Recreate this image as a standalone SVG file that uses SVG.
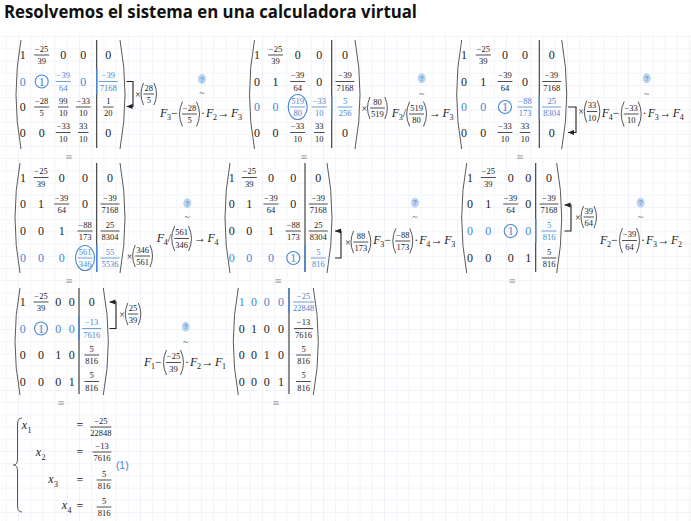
<svg xmlns="http://www.w3.org/2000/svg" width="691" height="521" viewBox="0 0 691 521">
<defs>
<style>
text{font-family:"Liberation Serif",serif}
.ttl{font-family:"Open Sans","Noto Sans",sans-serif;font-weight:bold;font-size:17.5px;fill:#111}
.i{font-size:12px;text-anchor:middle;fill:#222}
.f{font-size:8.5px;text-anchor:middle;fill:#222}
.fr{stroke:#222;stroke-width:.8}
.blue .i,.blue .f{fill:#4a86d0}
.blue .fr{stroke:#4a86d0}
.par{fill:none;stroke:#5a5a5a;stroke-width:1}
.sp{fill:none;stroke:#444;stroke-width:.9}
.bar{stroke:#333;stroke-width:1.1}
.bbar{stroke:#4a86d0;stroke-width:1.4}
.piv{fill:none;stroke:#4a86d0;stroke-width:1.1}
.op{font-size:12px;fill:#222}
.it{font-style:italic}
.sb{font-size:8px;fill:#222}
.tm{font-size:10px;fill:#222}
.eq3{font-family:"DejaVu Sans",sans-serif;font-size:9px;fill:#aaa;text-anchor:middle}
.bd{fill:#b9d5f1}
.q{font-family:"Liberation Sans",sans-serif;font-size:7px;font-weight:bold;fill:#6a95c4;text-anchor:middle}
.tl{font-size:10px;fill:#555;text-anchor:middle}
.con{fill:none;stroke:#222;stroke-width:1.1}
.lab{font-family:"Liberation Sans",sans-serif;font-size:10.5px;fill:#4a86d0;text-anchor:middle}
</style>
<pattern id="grid" width="12.2" height="12.2" patternUnits="userSpaceOnUse" x="5.8" y="-0.4">
<path d="M0.5,0 V12.2 M0,0.5 H12.2" stroke="#f1f3f8" stroke-width="1" fill="none"/>
</pattern>
<marker id="ah" viewBox="0 0 6 6" refX="6" refY="3" markerWidth="6" markerHeight="6" markerUnits="userSpaceOnUse" orient="auto">
<path d="M0,0.4 L6,3 L0,5.6 z" fill="#222"/>
</marker>
</defs>
<rect width="691" height="521" fill="#fff"/>
<rect y="34" width="691" height="487" fill="url(#grid)"/>
<text class="ttl" x="4" y="18" textLength="413" lengthAdjust="spacingAndGlyphs">Resolvemos el sistema en una calculadora virtual</text>

<!-- Matrix A -->
<g id="matrix-A">
<path class="par" d="M21,40 Q11,94.5 21,149"/><path class="par" d="M120,40 Q130,94.5 120,149"/>
<line class="bar" x1="96.7" y1="40" x2="96.7" y2="148"/><line class="bbar" x1="96.7" y1="69" x2="96.7" y2="94"/>
<text class="i" x="22.7" y="59">1</text>
<text class="f" x="41.7" y="51.5">−25</text><line class="fr" x1="34.2" y1="55" x2="49.2" y2="55"/><text class="f" x="41.7" y="64.2">39</text>
<text class="i" x="63.3" y="59">0</text><text class="i" x="83.3" y="59">0</text><text class="i" x="108.3" y="59">0</text>
<g class="blue">
<text class="i" x="22.7" y="85.5">0</text>
<circle class="piv" cx="41.7" cy="81.5" r="6.5"/><text class="i" x="41.7" y="85.5">1</text>
<text class="f" x="63.3" y="78">−39</text><line class="fr" x1="55.8" y1="81.5" x2="70.8" y2="81.5"/><text class="f" x="63.3" y="90.7">64</text>
<text class="i" x="83.3" y="85.5">0</text>
<text class="f" x="108.3" y="78">−39</text><line class="fr" x1="98.8" y1="81.5" x2="117.8" y2="81.5"/><text class="f" x="108.3" y="90.7">7168</text>
</g>
<text class="i" x="22.7" y="111">0</text>
<text class="f" x="41.7" y="103.5">−28</text><line class="fr" x1="34.2" y1="107" x2="49.2" y2="107"/><text class="f" x="41.7" y="116.2">5</text>
<text class="f" x="63.3" y="103.5">99</text><line class="fr" x1="58.05" y1="107" x2="68.55" y2="107"/><text class="f" x="63.3" y="116.2">10</text>
<text class="f" x="83.3" y="103.5">−33</text><line class="fr" x1="75.8" y1="107" x2="90.8" y2="107"/><text class="f" x="83.3" y="116.2">10</text>
<text class="f" x="108.3" y="103.5">1</text><line class="fr" x1="103.05" y1="107" x2="113.55" y2="107"/><text class="f" x="108.3" y="116.2">20</text>
<text class="i" x="22.7" y="136.5">0</text><text class="i" x="41.7" y="136.5">0</text>
<text class="f" x="63.3" y="129">−33</text><line class="fr" x1="55.8" y1="132.5" x2="70.8" y2="132.5"/><text class="f" x="63.3" y="141.7">10</text>
<text class="f" x="83.3" y="129">33</text><line class="fr" x1="78.05" y1="132.5" x2="88.55" y2="132.5"/><text class="f" x="83.3" y="141.7">10</text>
<text class="i" x="108.3" y="136.5">0</text>
<text class="eq3" x="69" y="160">≡</text>
</g>

<!-- Matrix B -->
<g id="matrix-B">
<path class="par" d="M254.5,40 Q244.5,94.5 254.5,149"/><path class="par" d="M355,40 Q365,94.5 355,149"/>
<line class="bar" x1="331.7" y1="40" x2="331.7" y2="148"/><line class="bbar" x1="331.7" y1="95" x2="331.7" y2="119"/>
<text class="i" x="257" y="59">1</text>
<text class="f" x="275.5" y="51.5">−25</text><line class="fr" x1="268" y1="55" x2="283" y2="55"/><text class="f" x="275.5" y="64.2">39</text>
<text class="i" x="297.7" y="59">0</text><text class="i" x="319.3" y="59">0</text><text class="i" x="345" y="59">0</text>
<text class="i" x="257" y="85.5">0</text><text class="i" x="275.5" y="85.5">1</text>
<text class="f" x="297.7" y="78">−39</text><line class="fr" x1="290.2" y1="81.5" x2="305.2" y2="81.5"/><text class="f" x="297.7" y="90.7">64</text>
<text class="i" x="319.3" y="85.5">0</text>
<text class="f" x="345" y="78">−39</text><line class="fr" x1="335.5" y1="81.5" x2="354.5" y2="81.5"/><text class="f" x="345" y="90.7">7168</text>
<g class="blue">
<text class="i" x="257" y="111">0</text><text class="i" x="275.5" y="111">0</text>
<ellipse class="piv" cx="297.7" cy="107" rx="9.5" ry="12.5"/>
<text class="f" x="297.7" y="103.5">519</text><line class="fr" x1="290.3" y1="107" x2="305.1" y2="107"/><text class="f" x="297.7" y="116.2">80</text>
<text class="f" x="319.3" y="103.5">−33</text><line class="fr" x1="311.8" y1="107" x2="326.8" y2="107"/><text class="f" x="319.3" y="116.2">10</text>
<text class="f" x="345" y="103.5">5</text><line class="fr" x1="337.6" y1="107" x2="352.4" y2="107"/><text class="f" x="345" y="116.2">256</text>
</g>
<text class="i" x="257" y="136.5">0</text><text class="i" x="275.5" y="136.5">0</text>
<text class="f" x="297.7" y="129">−33</text><line class="fr" x1="290.2" y1="132.5" x2="305.2" y2="132.5"/><text class="f" x="297.7" y="141.7">10</text>
<text class="f" x="319.3" y="129">33</text><line class="fr" x1="314.05" y1="132.5" x2="324.55" y2="132.5"/><text class="f" x="319.3" y="141.7">10</text>
<text class="i" x="345" y="136.5">0</text>
<text class="eq3" x="304" y="160">≡</text>
</g>

<!-- Matrix C -->
<g id="matrix-C">
<path class="par" d="M461.7,40 Q451.7,94.5 461.7,149"/><path class="par" d="M561.7,40 Q571.7,94.5 561.7,149"/>
<line class="bar" x1="539.3" y1="40" x2="539.3" y2="148"/><line class="bbar" x1="539.3" y1="95" x2="539.3" y2="119"/>
<text class="i" x="464" y="59">1</text>
<text class="f" x="483.3" y="51.5">−25</text><line class="fr" x1="475.8" y1="55" x2="490.8" y2="55"/><text class="f" x="483.3" y="64.2">39</text>
<text class="i" x="505" y="59">0</text><text class="i" x="525" y="59">0</text><text class="i" x="551.7" y="59">0</text>
<text class="i" x="464" y="85.5">0</text><text class="i" x="483.3" y="85.5">1</text>
<text class="f" x="505" y="78">−39</text><line class="fr" x1="497.5" y1="81.5" x2="512.5" y2="81.5"/><text class="f" x="505" y="90.7">64</text>
<text class="i" x="525" y="85.5">0</text>
<text class="f" x="551.7" y="78">−39</text><line class="fr" x1="542.2" y1="81.5" x2="561.2" y2="81.5"/><text class="f" x="551.7" y="90.7">7168</text>
<g class="blue">
<text class="i" x="464" y="111">0</text><text class="i" x="483.3" y="111">0</text>
<circle class="piv" cx="505" cy="107" r="6.5"/><text class="i" x="505" y="111">1</text>
<text class="f" x="525" y="103.5">−88</text><line class="fr" x1="517.5" y1="107" x2="532.5" y2="107"/><text class="f" x="525" y="116.2">173</text>
<text class="f" x="551.7" y="103.5">25</text><line class="fr" x1="542.2" y1="107" x2="561.2" y2="107"/><text class="f" x="551.7" y="116.2">8304</text>
</g>
<text class="i" x="464" y="136.5">0</text><text class="i" x="483.3" y="136.5">0</text>
<text class="f" x="505" y="129">−33</text><line class="fr" x1="497.5" y1="132.5" x2="512.5" y2="132.5"/><text class="f" x="505" y="141.7">10</text>
<text class="f" x="525" y="129">33</text><line class="fr" x1="519.75" y1="132.5" x2="530.25" y2="132.5"/><text class="f" x="525" y="141.7">10</text>
<text class="i" x="551.7" y="136.5">0</text>
<text class="eq3" x="520" y="160">≡</text>
</g>

<!-- Matrix D -->
<g id="matrix-D">
<path class="par" d="M20,163 Q10,218 20,273"/><path class="par" d="M120,163 Q130,218 120,273"/>
<line class="bar" x1="96.7" y1="163" x2="96.7" y2="272"/><line class="bbar" x1="96.7" y1="245" x2="96.7" y2="272"/>
<text class="i" x="23" y="181.5">1</text>
<text class="f" x="41" y="174">−25</text><line class="fr" x1="33.5" y1="177.5" x2="48.5" y2="177.5"/><text class="f" x="41" y="186.7">39</text>
<text class="i" x="61.7" y="181.5">0</text><text class="i" x="85" y="181.5">0</text><text class="i" x="110" y="181.5">0</text>
<text class="i" x="23" y="208">0</text><text class="i" x="41" y="208">1</text>
<text class="f" x="61.7" y="200.5">−39</text><line class="fr" x1="54.2" y1="204" x2="69.2" y2="204"/><text class="f" x="61.7" y="213.2">64</text>
<text class="i" x="85" y="208">0</text>
<text class="f" x="110" y="200.5">−39</text><line class="fr" x1="100.5" y1="204" x2="119.5" y2="204"/><text class="f" x="110" y="213.2">7168</text>
<text class="i" x="23" y="235">0</text><text class="i" x="41" y="235">0</text><text class="i" x="61.7" y="235">1</text>
<text class="f" x="85" y="227.5">−88</text><line class="fr" x1="77.5" y1="231" x2="92.5" y2="231"/><text class="f" x="85" y="240.2">173</text>
<text class="f" x="110" y="227.5">25</text><line class="fr" x1="100.5" y1="231" x2="119.5" y2="231"/><text class="f" x="110" y="240.2">8304</text>
<g class="blue">
<text class="i" x="23" y="262">0</text><text class="i" x="41" y="262">0</text><text class="i" x="61.7" y="262">0</text>
<ellipse class="piv" cx="85" cy="258" rx="9.5" ry="12.5"/>
<text class="f" x="85" y="254.5">561</text><line class="fr" x1="77.6" y1="258" x2="92.4" y2="258"/><text class="f" x="85" y="267.2">346</text>
<text class="f" x="110" y="254.5">55</text><line class="fr" x1="100.5" y1="258" x2="119.5" y2="258"/><text class="f" x="110" y="267.2">5536</text>
</g>
<text class="eq3" x="69.3" y="284">≡</text>
</g>

<!-- Matrix E -->
<g id="matrix-E">
<path class="par" d="M230,163 Q220,218 230,273"/><path class="par" d="M327,163 Q337,218 327,273"/>
<line class="bar" x1="305" y1="163" x2="305" y2="272"/><line class="bbar" x1="305" y1="245" x2="305" y2="272"/>
<text class="i" x="231.7" y="181.5">1</text>
<text class="f" x="249.3" y="174">−25</text><line class="fr" x1="241.8" y1="177.5" x2="256.8" y2="177.5"/><text class="f" x="249.3" y="186.7">39</text>
<text class="i" x="271" y="181.5">0</text><text class="i" x="293.3" y="181.5">0</text><text class="i" x="318.3" y="181.5">0</text>
<text class="i" x="231.7" y="208">0</text><text class="i" x="249.3" y="208">1</text>
<text class="f" x="271" y="200.5">−39</text><line class="fr" x1="263.5" y1="204" x2="278.5" y2="204"/><text class="f" x="271" y="213.2">64</text>
<text class="i" x="293.3" y="208">0</text>
<text class="f" x="318.3" y="200.5">−39</text><line class="fr" x1="308.8" y1="204" x2="327.8" y2="204"/><text class="f" x="318.3" y="213.2">7168</text>
<text class="i" x="231.7" y="235">0</text><text class="i" x="249.3" y="235">0</text><text class="i" x="271" y="235">1</text>
<text class="f" x="293.3" y="227.5">−88</text><line class="fr" x1="285.8" y1="231" x2="300.8" y2="231"/><text class="f" x="293.3" y="240.2">173</text>
<text class="f" x="318.3" y="227.5">25</text><line class="fr" x1="308.8" y1="231" x2="327.8" y2="231"/><text class="f" x="318.3" y="240.2">8304</text>
<g class="blue">
<text class="i" x="231.7" y="262">0</text><text class="i" x="249.3" y="262">0</text><text class="i" x="271" y="262">0</text>
<circle class="piv" cx="293.3" cy="258" r="6.5"/><text class="i" x="293.3" y="262">1</text>
<text class="f" x="318.3" y="254.5">5</text><line class="fr" x1="310.9" y1="258" x2="325.7" y2="258"/><text class="f" x="318.3" y="267.2">816</text>
</g>
<text class="eq3" x="278.3" y="284">≡</text>
</g>

<!-- Matrix F -->
<g id="matrix-F">
<path class="par" d="M466.7,163 Q456.7,218 466.7,273"/><path class="par" d="M556.7,163 Q566.7,218 556.7,273"/>
<line class="bar" x1="535.7" y1="163" x2="535.7" y2="272"/><line class="bbar" x1="535.7" y1="219" x2="535.7" y2="243"/>
<text class="i" x="470" y="181.5">1</text>
<text class="f" x="488.3" y="174">−25</text><line class="fr" x1="480.8" y1="177.5" x2="495.8" y2="177.5"/><text class="f" x="488.3" y="186.7">39</text>
<text class="i" x="510.7" y="181.5">0</text><text class="i" x="528.3" y="181.5">0</text><text class="i" x="549" y="181.5">0</text>
<text class="i" x="470" y="208">0</text><text class="i" x="488.3" y="208">1</text>
<text class="f" x="510.7" y="200.5">−39</text><line class="fr" x1="503.2" y1="204" x2="518.2" y2="204"/><text class="f" x="510.7" y="213.2">64</text>
<text class="i" x="528.3" y="208">0</text>
<text class="f" x="549" y="200.5">−39</text><line class="fr" x1="539.5" y1="204" x2="558.5" y2="204"/><text class="f" x="549" y="213.2">7168</text>
<g class="blue">
<text class="i" x="470" y="235">0</text><text class="i" x="488.3" y="235">0</text>
<circle class="piv" cx="510.7" cy="231" r="6.5"/><text class="i" x="510.7" y="235">1</text>
<text class="i" x="528.3" y="235">0</text>
<text class="f" x="549" y="227.5">5</text><line class="fr" x1="541.6" y1="231" x2="556.4" y2="231"/><text class="f" x="549" y="240.2">816</text>
</g>
<text class="i" x="470" y="262">0</text><text class="i" x="488.3" y="262">0</text><text class="i" x="510.7" y="262">0</text><text class="i" x="528.3" y="262">1</text>
<text class="f" x="549" y="254.5">5</text><line class="fr" x1="541.6" y1="258" x2="556.4" y2="258"/><text class="f" x="549" y="267.2">816</text>
<text class="eq3" x="512.3" y="284">≡</text>
</g>

<!-- Matrix G -->
<g id="matrix-G">
<path class="par" d="M20,288 Q10,341.5 20,395"/><path class="par" d="M103.3,288 Q113.3,341.5 103.3,395"/>
<line class="bar" x1="79" y1="288" x2="79" y2="394"/><line class="bbar" x1="79" y1="316.5" x2="79" y2="340.5"/>
<text class="i" x="22.7" y="306">1</text>
<text class="f" x="41" y="298.5">−25</text><line class="fr" x1="33.5" y1="302" x2="48.5" y2="302"/><text class="f" x="41" y="311.2">39</text>
<text class="i" x="58.3" y="306">0</text><text class="i" x="71.7" y="306">0</text><text class="i" x="91.7" y="306">0</text>
<g class="blue">
<text class="i" x="22.7" y="332.5">0</text>
<circle class="piv" cx="41" cy="328.5" r="6.5"/><text class="i" x="41" y="332.5">1</text>
<text class="i" x="58.3" y="332.5">0</text><text class="i" x="71.7" y="332.5">0</text>
<text class="f" x="91.7" y="325">−13</text><line class="fr" x1="82.2" y1="328.5" x2="101.2" y2="328.5"/><text class="f" x="91.7" y="337.7">7616</text>
</g>
<text class="i" x="22.7" y="359">0</text><text class="i" x="41" y="359">0</text><text class="i" x="58.3" y="359">1</text><text class="i" x="71.7" y="359">0</text>
<text class="f" x="91.7" y="351.5">5</text><line class="fr" x1="84.3" y1="355" x2="99.1" y2="355"/><text class="f" x="91.7" y="364.2">816</text>
<text class="i" x="22.7" y="385.5">0</text><text class="i" x="41" y="385.5">0</text><text class="i" x="58.3" y="385.5">0</text><text class="i" x="71.7" y="385.5">1</text>
<text class="f" x="91.7" y="378">5</text><line class="fr" x1="84.3" y1="381.5" x2="99.1" y2="381.5"/><text class="f" x="91.7" y="390.7">816</text>
<text class="eq3" x="61" y="406">≡</text>
</g>

<!-- Matrix H -->
<g id="matrix-H">
<path class="par" d="M238.3,288 Q228.3,341.5 238.3,395"/><path class="par" d="M313.3,288 Q323.3,341.5 313.3,395"/>
<line class="bar" x1="289" y1="288" x2="289" y2="394"/><line class="bbar" x1="289" y1="288" x2="289" y2="313"/>
<g class="blue">
<text class="i" x="241.7" y="306">1</text><text class="i" x="254" y="306">0</text><text class="i" x="266.7" y="306">0</text><text class="i" x="281" y="306">0</text>
<text class="f" x="303.5" y="298.5">−25</text><line class="fr" x1="293" y1="302" x2="314" y2="302"/><text class="f" x="303.5" y="311.2">22848</text>
</g>
<text class="i" x="241.7" y="332.5">0</text><text class="i" x="254" y="332.5">1</text><text class="i" x="266.7" y="332.5">0</text><text class="i" x="281" y="332.5">0</text>
<text class="f" x="303.5" y="325">−13</text><line class="fr" x1="294" y1="328.5" x2="313" y2="328.5"/><text class="f" x="303.5" y="337.7">7616</text>
<text class="i" x="241.7" y="359">0</text><text class="i" x="254" y="359">0</text><text class="i" x="266.7" y="359">1</text><text class="i" x="281" y="359">0</text>
<text class="f" x="303.5" y="351.5">5</text><line class="fr" x1="296.1" y1="355" x2="310.9" y2="355"/><text class="f" x="303.5" y="364.2">816</text>
<text class="i" x="241.7" y="385.5">0</text><text class="i" x="254" y="385.5">0</text><text class="i" x="266.7" y="385.5">0</text><text class="i" x="281" y="385.5">1</text>
<text class="f" x="303.5" y="378">5</text><line class="fr" x1="296.1" y1="381.5" x2="310.9" y2="381.5"/><text class="f" x="303.5" y="390.7">816</text>
<text class="eq3" x="276" y="406">≡</text>
</g>

<!-- Connectors -->
<g id="connectors">
<path class="con" d="M126.5,81.5 H133 V106.5 H126.5" marker-end="url(#ah)"/>
<path class="con" d="M568,107 H576 V132.5 H568" marker-end="url(#ah)"/>
<path class="con" d="M335,258 H341 V231 H335" marker-end="url(#ah)"/>
<path class="con" d="M564.5,231 H571 V205 H564.5" marker-end="url(#ah)"/>
<path class="con" d="M109.5,328.5 H116 V302 H109.5" marker-end="url(#ah)"/>
</g>

<!-- Operation labels -->
<g id="op-A">
<text class="tm" x="135" y="97.5">×</text>
<path class="sp" d="M143.5,83 Q138.5,94 143.5,105"/>
<text class="f" x="148.75" y="90.5">28</text><line class="fr" x1="143.5" y1="94" x2="154" y2="94"/><text class="f" x="148.75" y="103.2">5</text>
<path class="sp" d="M154,83 Q159,94 154,105"/>
<ellipse class="bd" cx="202" cy="79" rx="4" ry="5"/><text class="q" x="202" y="81.5">?</text>
<text class="tl" x="202" y="96.3">~</text>
<text class="op it" x="160" y="117">F</text><text class="sb" x="167" y="120">3</text>
<text class="op" x="171" y="117">−</text>
<path class="sp" d="M182.5,101.5 Q176.5,114 182.5,126.5"/>
<text class="f" x="189.5" y="110.5">−28</text><line class="fr" x1="182" y1="114" x2="197" y2="114"/><text class="f" x="189.5" y="123.2">5</text>
<path class="sp" d="M196.5,101.5 Q202.5,114 196.5,126.5"/>
<text class="op" x="203" y="117" text-anchor="middle">·</text>
<text class="op it" x="206" y="117">F</text><text class="sb" x="213" y="120">2</text>
<text class="op" x="217.5" y="117" textLength="12" lengthAdjust="spacingAndGlyphs">→</text>
<text class="op it" x="231" y="117">F</text><text class="sb" x="238" y="120">3</text>
</g>

<g id="op-B">
<text class="tm" x="361.5" y="111.5">×</text>
<path class="sp" d="M370,97 Q365,108 370,119"/>
<text class="f" x="377.4" y="104.5">80</text><line class="fr" x1="370" y1="108" x2="384.8" y2="108"/><text class="f" x="377.4" y="117.2">519</text>
<path class="sp" d="M384.8,97 Q389.8,108 384.8,119"/>
<ellipse class="bd" cx="421.7" cy="78.3" rx="4" ry="5"/><text class="q" x="421.7" y="80.8">?</text>
<text class="tl" x="421.7" y="97">~</text>
<text class="op it" x="391.7" y="117">F</text><text class="sb" x="398.7" y="120">3</text>
<text class="op" x="402.7" y="117">/</text>
<path class="sp" d="M409.7,101.5 Q403.7,114 409.7,126.5"/>
<text class="f" x="416.6" y="110.5">519</text><line class="fr" x1="409.2" y1="114" x2="424" y2="114"/><text class="f" x="416.6" y="123.2">80</text>
<path class="sp" d="M423.5,101.5 Q429.5,114 423.5,126.5"/>
<text class="op" x="429" y="117" textLength="12" lengthAdjust="spacingAndGlyphs">→</text>
<text class="op it" x="442.5" y="117">F</text><text class="sb" x="449.5" y="120">3</text>
</g>

<g id="op-C">
<text class="tm" x="578.3" y="115">×</text>
<path class="sp" d="M586.8,100.5 Q581.8,111.5 586.8,122.5"/>
<text class="f" x="592.05" y="108">33</text><line class="fr" x1="586.8" y1="111.5" x2="597.3" y2="111.5"/><text class="f" x="592.05" y="120.7">10</text>
<path class="sp" d="M597.3,100.5 Q602.3,111.5 597.3,122.5"/>
<ellipse class="bd" cx="646.7" cy="78.3" rx="4" ry="5"/><text class="q" x="646.7" y="80.8">?</text>
<text class="tl" x="646.7" y="97">~</text>
<text class="op it" x="601.7" y="117">F</text><text class="sb" x="608.7" y="120">4</text>
<text class="op" x="612.7" y="117">−</text>
<path class="sp" d="M624.2,101.5 Q618.2,114 624.2,126.5"/>
<text class="f" x="631.2" y="110.5">−33</text><line class="fr" x1="623.7" y1="114" x2="638.7" y2="114"/><text class="f" x="631.2" y="123.2">10</text>
<path class="sp" d="M638.2,101.5 Q644.2,114 638.2,126.5"/>
<text class="op" x="644.7" y="117" text-anchor="middle">·</text>
<text class="op it" x="647.7" y="117">F</text><text class="sb" x="654.7" y="120">3</text>
<text class="op" x="659.2" y="117" textLength="12" lengthAdjust="spacingAndGlyphs">→</text>
<text class="op it" x="672.7" y="117">F</text><text class="sb" x="679.7" y="120">4</text>
</g>

<g id="op-D">
<text class="tm" x="126.7" y="259.5">×</text>
<path class="sp" d="M135.2,245 Q130.2,256 135.2,267"/>
<text class="f" x="142.6" y="252.5">346</text><line class="fr" x1="135.2" y1="256" x2="150" y2="256"/><text class="f" x="142.6" y="265.2">561</text>
<path class="sp" d="M150,245 Q155,256 150,267"/>
<ellipse class="bd" cx="187.3" cy="203.3" rx="4" ry="5"/><text class="q" x="187.3" y="205.8">?</text>
<text class="tl" x="187.3" y="219.7">~</text>
<text class="op it" x="156.7" y="241.5">F</text><text class="sb" x="163.7" y="244.5">4</text>
<text class="op" x="167.7" y="241.5">/</text>
<path class="sp" d="M174.7,226 Q168.7,238.5 174.7,251"/>
<text class="f" x="181.6" y="235">561</text><line class="fr" x1="174.2" y1="238.5" x2="189" y2="238.5"/><text class="f" x="181.6" y="247.7">346</text>
<path class="sp" d="M188.5,226 Q194.5,238.5 188.5,251"/>
<text class="op" x="194" y="241.5" textLength="12" lengthAdjust="spacingAndGlyphs">→</text>
<text class="op it" x="207.5" y="241.5">F</text><text class="sb" x="214.5" y="244.5">4</text>
</g>

<g id="op-E">
<text class="tm" x="345" y="245.5">×</text>
<path class="sp" d="M353.5,231 Q348.5,242 353.5,253"/>
<text class="f" x="360.9" y="238.5">88</text><line class="fr" x1="353.5" y1="242" x2="368.3" y2="242"/><text class="f" x="360.9" y="251.2">173</text>
<path class="sp" d="M368.3,231 Q373.3,242 368.3,253"/>
<ellipse class="bd" cx="415" cy="202.7" rx="4" ry="5"/><text class="q" x="415" y="205.2">?</text>
<text class="tl" x="415" y="220.3">~</text>
<text class="op it" x="373.3" y="244">F</text><text class="sb" x="380.3" y="247">3</text>
<text class="op" x="384.3" y="244">−</text>
<path class="sp" d="M395.8,228.5 Q389.8,241 395.8,253.5"/>
<text class="f" x="402.8" y="237.5">−88</text><line class="fr" x1="395.3" y1="241" x2="410.3" y2="241"/><text class="f" x="402.8" y="250.2">173</text>
<path class="sp" d="M409.8,228.5 Q415.8,241 409.8,253.5"/>
<text class="op" x="416.3" y="244" text-anchor="middle">·</text>
<text class="op it" x="419.3" y="244">F</text><text class="sb" x="426.3" y="247">4</text>
<text class="op" x="430.8" y="244" textLength="12" lengthAdjust="spacingAndGlyphs">→</text>
<text class="op it" x="444.3" y="244">F</text><text class="sb" x="451.3" y="247">3</text>
</g>

<g id="op-F">
<text class="tm" x="575" y="220.5">×</text>
<path class="sp" d="M583.5,206 Q578.5,217 583.5,228"/>
<text class="f" x="588.75" y="213.5">39</text><line class="fr" x1="583.5" y1="217" x2="594" y2="217"/><text class="f" x="588.75" y="226.2">64</text>
<path class="sp" d="M594,206 Q599,217 594,228"/>
<ellipse class="bd" cx="640.7" cy="202.7" rx="4" ry="5"/><text class="q" x="640.7" y="205.2">?</text>
<text class="tl" x="640.7" y="220.3">~</text>
<text class="op it" x="600" y="243.5">F</text><text class="sb" x="607" y="246.5">2</text>
<text class="op" x="611" y="243.5">−</text>
<path class="sp" d="M622.5,228 Q616.5,240.5 622.5,253"/>
<text class="f" x="629.5" y="237">−39</text><line class="fr" x1="622" y1="240.5" x2="637" y2="240.5"/><text class="f" x="629.5" y="249.7">64</text>
<path class="sp" d="M636.5,228 Q642.5,240.5 636.5,253"/>
<text class="op" x="643" y="243.5" text-anchor="middle">·</text>
<text class="op it" x="646" y="243.5">F</text><text class="sb" x="653" y="246.5">3</text>
<text class="op" x="657.5" y="243.5" textLength="12" lengthAdjust="spacingAndGlyphs">→</text>
<text class="op it" x="671" y="243.5">F</text><text class="sb" x="678" y="246.5">2</text>
</g>

<g id="op-G">
<text class="tm" x="119.3" y="317.5">×</text>
<path class="sp" d="M127.8,303 Q122.8,314 127.8,325"/>
<text class="f" x="133.05" y="310.5">25</text><line class="fr" x1="127.8" y1="314" x2="138.3" y2="314"/><text class="f" x="133.05" y="323.2">39</text>
<path class="sp" d="M138.3,303 Q143.3,314 138.3,325"/>
<ellipse class="bd" cx="185.7" cy="326.7" rx="4" ry="5"/><text class="q" x="185.7" y="329.2">?</text>
<text class="tl" x="185.7" y="344.7">~</text>
<text class="op it" x="144" y="365.5">F</text><text class="sb" x="151" y="368.5">1</text>
<text class="op" x="155" y="365.5">−</text>
<path class="sp" d="M166.5,350 Q160.5,362.5 166.5,375"/>
<text class="f" x="173.5" y="359">−25</text><line class="fr" x1="166" y1="362.5" x2="181" y2="362.5"/><text class="f" x="173.5" y="371.7">39</text>
<path class="sp" d="M180.5,350 Q186.5,362.5 180.5,375"/>
<text class="op" x="187" y="365.5" text-anchor="middle">·</text>
<text class="op it" x="190" y="365.5">F</text><text class="sb" x="197" y="368.5">2</text>
<text class="op" x="201.5" y="365.5" textLength="12" lengthAdjust="spacingAndGlyphs">→</text>
<text class="op it" x="215" y="365.5">F</text><text class="sb" x="222" y="368.5">1</text>
</g>

<!-- Solution system -->
<g id="system">
<path class="sp" d="M22,418 Q17.5,418 17.5,424 L17.5,459 Q17.5,465 13.5,465 Q17.5,465 17.5,471 L17.5,506 Q17.5,512 22,512"/>
<text class="op it" x="21.7" y="428.5">x</text><text class="sb" x="27.5" y="432.5">1</text>
<text class="op" x="80" y="428.5" text-anchor="middle">=</text>
<text class="f" x="100.8" y="423.5">−25</text><line class="fr" x1="90.3" y1="427" x2="111.3" y2="427"/><text class="f" x="100.8" y="436.2">22848</text>
<text class="op it" x="35.7" y="455.5">x</text><text class="sb" x="41.5" y="459.5">2</text>
<text class="op" x="80" y="456" text-anchor="middle">=</text>
<text class="f" x="102" y="448.5">−13</text><line class="fr" x1="92.5" y1="452" x2="111.5" y2="452"/><text class="f" x="102" y="461.2">7616</text>
<text class="op it" x="48.3" y="482.5">x</text><text class="sb" x="54" y="486.5">3</text>
<text class="op" x="80" y="483.5" text-anchor="middle">=</text>
<text class="f" x="104" y="476.5">5</text><line class="fr" x1="96.6" y1="480" x2="111.4" y2="480"/><text class="f" x="104" y="489.2">816</text>
<text class="op it" x="61.7" y="509">x</text><text class="sb" x="67.5" y="513">4</text>
<text class="op" x="80" y="510" text-anchor="middle">=</text>
<text class="f" x="104" y="503.5">5</text><line class="fr" x1="96.6" y1="507" x2="111.4" y2="507"/><text class="f" x="104" y="516.2">816</text>
<text class="lab" x="122.3" y="469">(1)</text>
</g>
</svg>
